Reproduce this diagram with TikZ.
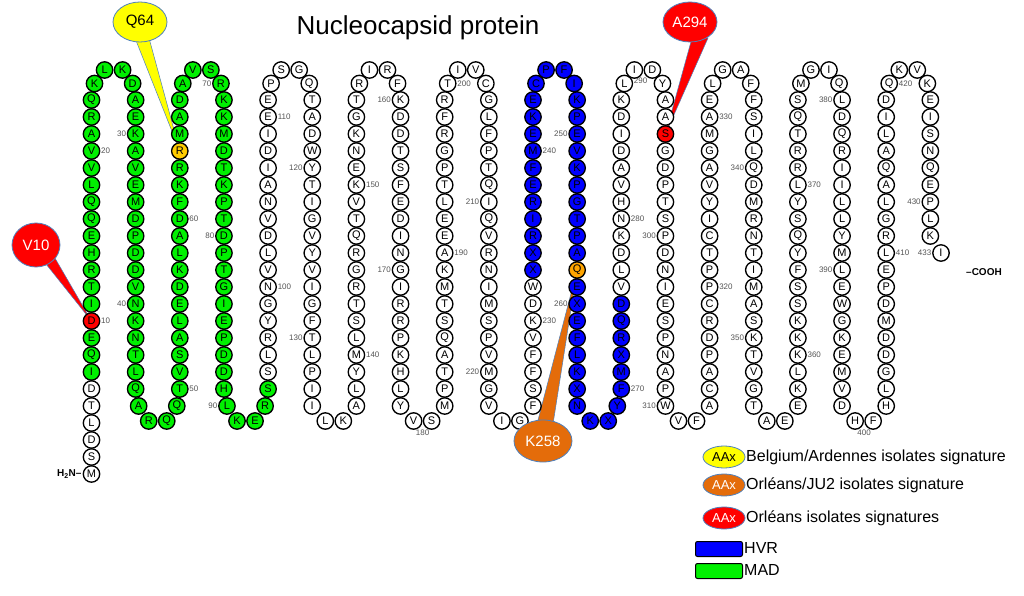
\documentclass[tikz,border=0pt]{standalone}
\usepackage{fontspec}
\setmainfont{Liberation Sans}
\usetikzlibrary{shapes.geometric,calc}
\pgfdeclarelayer{bg}
\pgfsetlayers{bg,main}
\definecolor{mad}{RGB}{0,240,0}
\definecolor{hvr}{RGB}{0,0,255}
\definecolor{sigred}{RGB}{255,0,0}
\definecolor{sigyel}{RGB}{255,204,0}
\definecolor{sigora}{RGB}{255,165,0}
\definecolor{calora}{RGB}{228,108,10}
\definecolor{calyel}{RGB}{255,255,0}
\definecolor{edgeblue}{RGB}{79,129,189}
\definecolor{numgray}{RGB}{85,85,85}
\tikzset{
 res/.style={circle,draw=black,line width=1.35pt,minimum size=16.4pt,inner sep=0pt,font=\fontsize{11}{11}\selectfont},
 num/.style={font=\fontsize{8}{8}\selectfont,text=numgray,inner sep=0.6pt},
 callout/.style={ellipse,draw=edgeblue,line width=0.8pt,inner sep=0pt,font=\fontsize{15}{15}\selectfont},
 wedge/.style={draw=edgeblue,line width=0.5pt},
 legov/.style={ellipse,draw=edgeblue,line width=0.8pt,minimum width=42pt,minimum height=22pt,inner sep=0pt,font=\fontsize{13}{13}\selectfont},
 legtxt/.style={anchor=west,inner sep=0pt,font=\fontsize{16}{16}\selectfont},
 legbox/.style={draw=black,line width=1pt,rounded corners=2pt,minimum width=47pt,minimum height=15pt,inner sep=0pt},
 term/.style={font=\bfseries\fontsize{10}{10}\selectfont,inner sep=0pt}
}
\newcommand\resnode[4]{%
 \edef\rn{#1}%
 \def\rf{white}%
 \ifnum\rn>6 \ifnum\rn<95 \def\rf{mad}\fi\fi
 \ifnum\rn>232 \ifnum\rn<276 \def\rf{hvr}\fi\fi
 \ifnum\rn=10 \def\rf{sigred}\fi
 \ifnum\rn=294 \def\rf{sigred}\fi
 \ifnum\rn=64 \def\rf{sigyel}\fi
 \ifnum\rn=258 \def\rf{sigora}\fi
 \node[res,fill=\rf] (r\rn) at (#2,#3) {#4};%
}
\newcommand\rescol[5]{%
 \foreach \l [count=\i from 0] in {#5} {%
   \pgfmathsetmacro\rxx{91.5+44.15*(#1)}%
   \pgfmathsetmacro\ryy{100+17*((#2)+(#3)*\i)}%
   \pgfmathtruncatemacro\resn{#4+\i}%
   \resnode{\resn}{\rxx}{\ryy}{\l}%
 }%
}
\newcommand\toploop[6]{%
 \pgfmathsetmacro\txl{91.5+88.3*(#1)}%
 \pgfmathsetmacro\txr{\txl+44.15}%
 \pgfmathsetmacro\txc{\txl+22.075}%
 \resnode{#2}{\txl+3}{83.5}{#3}%
 \pgfmathtruncatemacro\tn{#2+1}\resnode{\tn}{\txc-9}{70}{#4}%
 \pgfmathtruncatemacro\tn{#2+2}\resnode{\tn}{\txc+9}{70}{#5}%
 \pgfmathtruncatemacro\tn{#2+3}\resnode{\tn}{\txr-3}{83.5}{#6}%
}
\newcommand\botlooptwo[4]{%
 \pgfmathsetmacro\bxc{91.5+44.15*(#1)+22.075}%
 \resnode{#2}{\bxc-9}{421}{#3}%
 \pgfmathtruncatemacro\bn{#2+1}\resnode{\bn}{\bxc+9}{421}{#4}%
}
\newcommand\botloopfour[6]{%
 \pgfmathsetmacro\bxa{91.5+44.15*(#1)}%
 \pgfmathsetmacro\bxb{\bxa+44.15}%
 \pgfmathsetmacro\bxc{\bxa+22.075}%
 \resnode{#2}{\bxa+3}{406}{#3}%
 \pgfmathtruncatemacro\bn{#2+1}\resnode{\bn}{\bxc-9}{421}{#4}%
 \pgfmathtruncatemacro\bn{#2+2}\resnode{\bn}{\bxc+9}{421}{#5}%
 \pgfmathtruncatemacro\bn{#2+3}\resnode{\bn}{\bxb-3}{406}{#6}%
}
\newcommand\numR[1]{\node[num,anchor=west] at (r#1.east) {#1};}
\newcommand\numL[1]{\node[num,anchor=east] at (r#1.west) {#1};}
\begin{document}
\begin{tikzpicture}[x=1pt,y=-1pt]
\begin{pgfonlayer}{bg}
\fill[white] (0,0) rectangle (1024,596);
\end{pgfonlayer}
\useasboundingbox (0,0) rectangle (1024,596);

\node[font=\fontsize{26}{26}\selectfont,inner sep=0pt] (title) at (418,28) {Nucleocapsid protein};

% residues
\rescol{0}{22}{-1}{1}{M,S,D,L,T,D,I,Q,E,D,I,T,R,H,E,Q,Q,L,V,V,A,R,Q}
\toploop{0}{24}{K}{L}{K}{D}
\rescol{1}{0}{1}{28}{A,E,K,A,V,E,M,D,P,D,D,V,N,K,N,T,L,Q}
\botloopfour{1}{46}{A}{R}{Q}{Q}
\rescol{2}{17}{-1}{50}{T,V,S,A,L,E,D,K,L,A,D,F,K,R,R,M,A,D}
\toploop{1}{68}{A}{V}{S}{R}
\rescol{3}{0}{1}{72}{K,K,M,D,T,K,P,T,D,P,T,G,I,E,P,D,D,H}
\botloopfour{3}{90}{L}{K}{E}{R}
\rescol{4}{17}{-1}{94}{S,S,L,R,Y,G,N,V,L,D,V,N,A,I,D,I,E,E}
\toploop{2}{112}{P}{S}{G}{Q}
\rescol{5}{0}{1}{116}{T,A,D,W,Y,T,I,G,V,Y,V,I,G,F,T,L,P,I,I}
\botlooptwo{5}{135}{L}{K}
\rescol{6}{18}{-1}{137}{A,L,Y,M,L,S,T,R,G,R,Q,T,V,K,E,N,K,G,T}
\toploop{3}{156}{R}{I}{R}{F}
\rescol{7}{0}{1}{160}{K,D,D,T,S,F,E,D,I,N,G,I,R,R,P,K,H,L,Y}
\botlooptwo{7}{179}{V}{S}
\rescol{8}{18}{-1}{181}{M,P,T,A,Q,S,T,M,K,A,E,E,L,T,P,G,R,F,R}
\toploop{4}{200}{T}{I}{V}{C}
\rescol{9}{0}{1}{204}{G,L,F,P,T,Q,I,Q,V,R,N,I,M,S,P,V,M,G,V}
\botlooptwo{9}{223}{I}{G}
\rescol{10}{18}{-1}{225}{F,S,F,F,V,K,D,W,X,X,R,I,R,E,F,M,E,K,E}
\toploop{5}{244}{C}{P}{F}{I}
\rescol{11}{0}{1}{248}{K,P,E,V,K,P,G,T,P,A,Q,E,X,E,F,L,K,X,N}
\botlooptwo{11}{267}{K}{X}
\resnode{269}{617.3}{406}{Y}
\rescol{12}{17}{-1}{270}{F,M,X,R,Q,D,V,L,D,K,N,H,V,A,D,I,D,K}
\toploop{6}{288}{L}{I}{D}{Y}
\rescol{13}{0}{1}{292}{A,A,S,G,D,P,T,S,P,D,N,I,E,S,P,N,A,P,W}
\botlooptwo{13}{311}{V}{F}
\rescol{14}{18}{-1}{313}{A,C,A,P,D,R,C,P,P,T,C,I,Y,V,A,G,M,A,E}
\toploop{7}{332}{L}{G}{A}{F}
\rescol{15}{0}{1}{336}{F,S,I,L,Q,D,M,R,N,T,I,M,A,S,K,T,V,G,T}
\botlooptwo{15}{355}{A}{E}
\rescol{16}{18}{-1}{357}{E,K,L,K,K,K,S,S,F,Y,Q,S,Y,L,R,R,T,Q,S}
\toploop{8}{376}{M}{G}{I}{Q}
\rescol{17}{0}{1}{380}{L,D,Q,R,I,I,L,L,Y,M,L,E,W,G,K,E,M,V,D}
\botlooptwo{17}{399}{H}{F}
\rescol{18}{18}{-1}{401}{H,L,G,D,D,M,D,P,E,L,R,G,L,A,Q,A,L,I,D}
\toploop{9}{420}{Q}{K}{V}{K}
\rescol{19}{0}{1}{424}{E,I,S,N,Q,E,P,L,K}
\resnode{433}{941}{253}{I}

% termini
\node[term,anchor=east] (nterm) at ($(r1.west)+(-1,0)$) {H\textsubscript{2}N–};
\node[term,anchor=west] (cterm) at (966,272) {–COOH};

% callout ovals
\node[callout,fill=sigred,text=white,minimum width=48pt,minimum height=44pt] (cV10) at (36,245) {V10};
\node[callout,fill=calyel,text=black,minimum width=54pt,minimum height=40pt] (cQ64) at (140,22) {Q64};
\node[callout,fill=sigred,text=white,minimum width=54pt,minimum height=40pt] (cA294) at (690,22) {A294};
\node[callout,fill=calora,text=white,minimum width=58pt,minimum height=42pt] (cK258) at (543,441) {K258};

\begin{pgfonlayer}{bg}
\foreach \n in {10,20,50,60,100,110,140,150,190,200,230,240,270,280,320,330,360,370,410,420} {\numR{\n}}
\foreach \n in {30,40,80,90,120,130,160,170,210,220,250,260,300,310,340,350,380,390,430,433} {\numL{\n}}
\node[num,anchor=east] at (r71.west) {70};
\node[num,anchor=west] at ($(r288.east)+(0,-3)$) {290};
\node[num] at (422.6,433) {180};
\node[num] at (864.1,433) {400};
% pointers
\filldraw[wedge,fill=sigred] ($(cV10.center)+(6,14)$) -- ($(cV10.center)+(16,8)$) -- (r10.center) -- cycle;
\filldraw[wedge,fill=calyel] ($(cQ64.center)+(-5,16)$) -- ($(cQ64.center)+(9,16)$) -- (r64.center) -- cycle;
\filldraw[wedge,fill=sigred] ($(cA294.center)+(2,16)$) -- ($(cA294.center)+(18,16)$) -- (r294.center) -- cycle;
\filldraw[wedge,fill=calora] ($(cK258.center)+(-6,-17)$) -- ($(cK258.center)+(10,-17)$) -- (r258.center) -- cycle;
\end{pgfonlayer}

% legend
\node[legov,fill=calyel,text=black] (ly) at (724,457) {AAx};
\node[legtxt] (lyt) at (746,457) {Belgium/Ardennes isolates signature};
\node[legov,fill=calora,text=white] (lo) at (724,485) {AAx};
\node[legtxt] (lot) at (746,485) {Orléans/JU2 isolates signature};
\node[legov,fill=sigred,text=white] (lr) at (724,518) {AAx};
\node[legtxt] (lrt) at (746,518) {Orléans isolates signatures};
\node[legbox,fill=hvr] (lh) at (719,549) {};
\node[legtxt] (lht) at (744,548) {HVR};
\node[legbox,fill=mad] (lm) at (719,571) {};
\node[legtxt] (lmt) at (744,570) {MAD};
\end{tikzpicture}
\end{document}
